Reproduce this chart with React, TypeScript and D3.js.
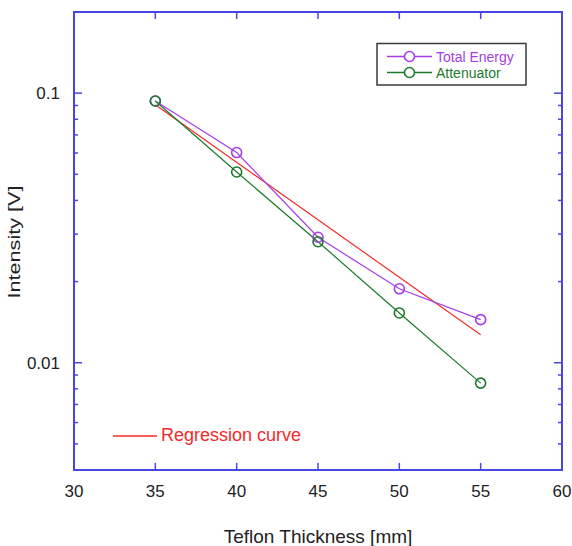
import React from "react";
import * as d3 from "d3";

const thickness = [35, 40, 45, 50, 55];
const totalEnergy = [0.0935, 0.0602, 0.0292, 0.0188, 0.01445];
const attenuator = [0.0935, 0.051, 0.0281, 0.0153, 0.0084];
const regressionX = [35, 55];
const regressionY = [0.0905, 0.0127];
const xTicks = [30, 35, 40, 45, 50, 55, 60];
const yMajorTicks = [0.01, 0.1];
const yMinorTicks = [0.004, 0.005, 0.006, 0.007, 0.008, 0.009, 0.02, 0.03, 0.04, 0.05, 0.06, 0.07, 0.08, 0.09, 0.2];
const yTickLabels = ["0.01", "0.1"];

const W = 572, H = 546;
const L = 74, R = 562, T = 12, B = 470;
const AXIS = "#4646e6";
const PURPLE = "#a43ee8";
const GREEN = "#1c7a2c";
const RED = "#f42a2a";
const TXT = "#222";
const FONT = "'Liberation Sans', Arial, sans-serif";

export default function App() {
  const x = d3.scaleLinear().domain([30, 60]).range([L, R]);
  const y = d3.scaleLog().domain([0.004, 0.2]).range([B, T]);
  const line = d3.line<[number, number]>().x(d => x(d[0])).y(d => y(d[1]));
  const te: [number, number][] = thickness.map((t, i) => [t, totalEnergy[i]]);
  const at: [number, number][] = thickness.map((t, i) => [t, attenuator[i]]);
  const rg: [number, number][] = regressionX.map((t, i) => [t, regressionY[i]]);

  return (
    <svg width={W} height={H} style={{ position: "absolute", left: 0, top: 0, background: "#fff" }} fontFamily={FONT}>
      <rect x={0} y={0} width={W} height={H} fill="#fff" />
      {/* data lines */}
      <path d={line(rg) || ""} fill="none" stroke={RED} strokeWidth={1.2} />
      <path d={line(te) || ""} fill="none" stroke={PURPLE} strokeWidth={1.2} />
      <path d={line(at) || ""} fill="none" stroke={GREEN} strokeWidth={1.2} />
      {te.map((d, i) => (
        <circle key={"p" + i} cx={x(d[0])} cy={y(d[1])} r={5} fill="none" stroke={PURPLE} strokeWidth={1.6} />
      ))}
      {at.map((d, i) => (
        <circle key={"g" + i} cx={x(d[0])} cy={y(d[1])} r={5} fill="none" stroke={GREEN} strokeWidth={1.6} />
      ))}

      {/* frame */}
      <rect x={L} y={T} width={R - L} height={B - T} fill="none" stroke={AXIS} strokeWidth={2} />
      {/* x ticks */}
      {xTicks.slice(1, -1).map(t => (
        <g key={"xt" + t}>
          <line x1={x(t)} x2={x(t)} y1={B} y2={B - 7} stroke={AXIS} strokeWidth={1.5} />
          <line x1={x(t)} x2={x(t)} y1={T} y2={T + 7} stroke={AXIS} strokeWidth={1.5} />
        </g>
      ))}
      {xTicks.map(t => (
        <text key={"xl" + t} x={x(t)} y={497} textAnchor="middle" fontSize={17} fill={TXT}>{t}</text>
      ))}
      {/* y ticks */}
      {yMajorTicks.map((t, i) => (
        <g key={"ym" + t}>
          <line x1={L} x2={L + 8} y1={y(t)} y2={y(t)} stroke={AXIS} strokeWidth={1.5} />
          <line x1={R} x2={R - 8} y1={y(t)} y2={y(t)} stroke={AXIS} strokeWidth={1.5} />
          <text x={60} y={y(t) + 6} textAnchor="end" fontSize={17} fill={TXT}>{yTickLabels[i]}</text>
        </g>
      ))}
      {yMinorTicks.map(t => (
        <g key={"yn" + t}>
          <line x1={L} x2={L + 4} y1={y(t)} y2={y(t)} stroke={AXIS} strokeWidth={1.5} />
          <line x1={R} x2={R - 4} y1={y(t)} y2={y(t)} stroke={AXIS} strokeWidth={1.5} />
        </g>
      ))}

      {/* axis titles */}
      <text x={(L + R) / 2} y={543} textAnchor="middle" fontSize={19} fill={TXT}>Teflon Thickness [mm]</text>
      <text transform={`translate(20, ${(T + B) / 2 + 1}) rotate(-90)`} textAnchor="middle" fontSize={17}
        textLength={113} lengthAdjust="spacingAndGlyphs" fill={TXT}>Intensity [V]</text>

      {/* legend */}
      <rect x={377} y={43.5} width={149} height={41.5} fill="#fff" stroke="#3a3a3a" strokeWidth={1.5} />
      <line x1={387} x2={432} y1={56.5} y2={56.5} stroke={PURPLE} strokeWidth={1.5} />
      <circle cx={409.5} cy={56.5} r={5} fill="#fff" stroke={PURPLE} strokeWidth={1.6} />
      <text x={436} y={61.5} fontSize={14} fill={PURPLE}>Total Energy</text>
      <line x1={387} x2={432} y1={72.5} y2={72.5} stroke={GREEN} strokeWidth={1.5} />
      <circle cx={409.5} cy={72.5} r={5} fill="#fff" stroke={GREEN} strokeWidth={1.6} />
      <text x={436} y={77.5} fontSize={14} fill={GREEN}>Attenuator</text>

      <line x1={113} x2={157} y1={436} y2={436} stroke={RED} strokeWidth={1.5} />
      <text x={161} y={441} fontSize={18} fill={RED}>Regression curve</text>
    </svg>
  );
}
